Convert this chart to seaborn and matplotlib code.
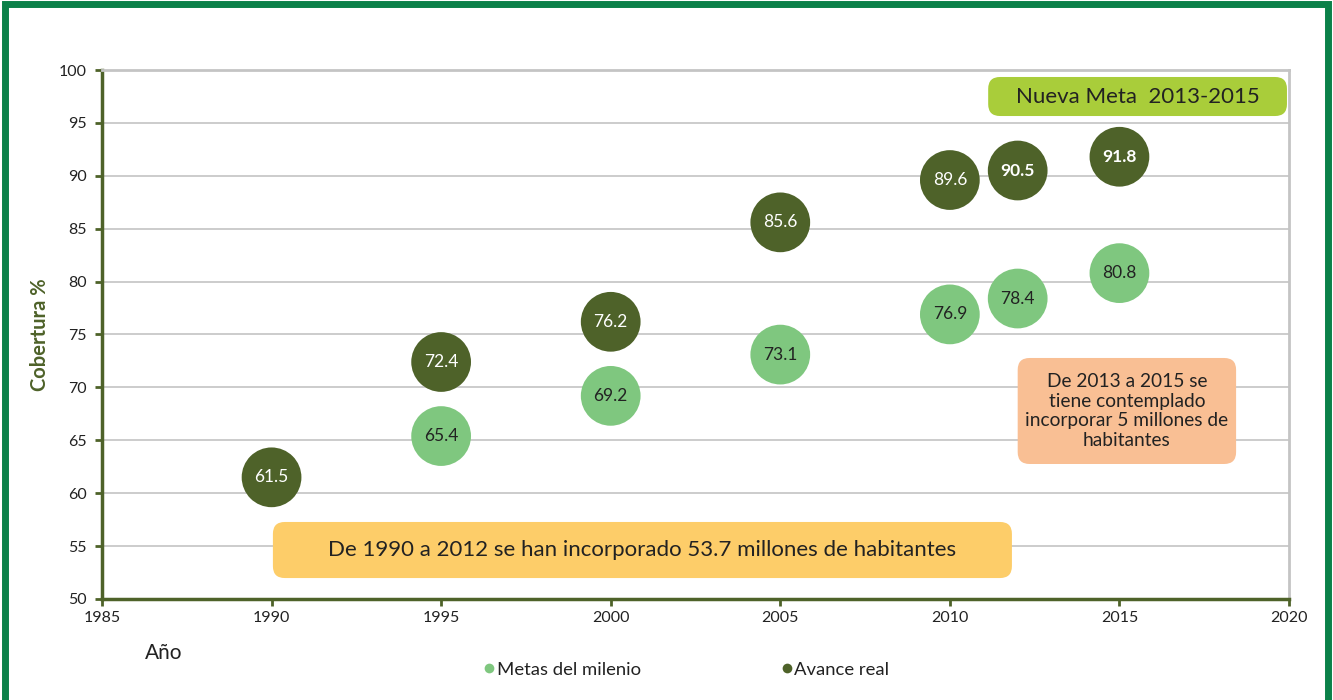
import numpy as np
import pandas as pd
import seaborn as sns
import matplotlib.pyplot as plt
from matplotlib.patches import FancyBboxPatch, Rectangle
from matplotlib.lines import Line2D

# data
years_meta = [1995, 2000, 2005, 2010, 2012, 2015]
vals_meta = [65.4, 69.2, 73.1, 76.9, 78.4, 80.8]
years_real = [1990, 1995, 2000, 2005, 2010, 2012, 2015]
vals_real = [61.5, 72.4, 76.2, 85.6, 89.6, 90.5, 91.8]
series = ["Metas del milenio", "Avance real"]

df = pd.concat([
    pd.DataFrame({"year": years_meta, "value": vals_meta, "serie": series[0]}),
    pd.DataFrame({"year": years_real, "value": vals_real, "serie": series[1]}),
])

DARK = "#4e6229"
LIGHT = "#7fc77f"

sns.set_style("white")
plt.rcParams["font.family"] = ["Lato", "DejaVu Sans"]

fig = plt.figure(figsize=(13.33, 7), dpi=100)
ax = fig.add_axes([0.0765, 0.1443, 0.8905, 0.7557])

sns.scatterplot(data=df, x="year", y="value", hue="serie",
                palette={series[0]: LIGHT, series[1]: DARK},
                s=1850, linewidth=0, legend=False, ax=ax, zorder=3)

for x, y in zip(years_meta, vals_meta):
    ax.text(x, y, f"{y:.1f}", ha="center", va="center", fontsize=12.5,
            color="#222222", zorder=4)
for x, y in zip(years_real, vals_real):
    bold = x in (2012, 2015)
    ax.text(x, y, f"{y:.1f}", ha="center", va="center", fontsize=12.5,
            color="white", fontweight="bold" if bold else "normal", zorder=4)

ax.set_xlim(1985, 2020)
ax.set_ylim(50, 100)
ax.set_xticks(range(1985, 2021, 5))
ax.set_yticks(range(50, 101, 5))
ax.tick_params(axis="both", labelsize=11.5, colors="#222222", length=5,
               width=2)
ax.tick_params(axis="x", color=DARK, pad=4, bottom=True)
ax.tick_params(axis="y", color=DARK, pad=6, direction="out", left=True)
ax.yaxis.grid(True, color="#c8c8c8", linewidth=1.3)
ax.set_axisbelow(True)

for side in ["left", "bottom"]:
    ax.spines[side].set_color(DARK)
    ax.spines[side].set_linewidth(2.5)
for side in ["top", "right"]:
    ax.spines[side].set_color("#c4c4c4")
    ax.spines[side].set_linewidth(2)

ax.set_xlabel("")
ax.set_ylabel("Cobertura %", fontsize=14.5, fontweight="bold", color=DARK,
              labelpad=6)
fig.text(0.109, 0.059, "Año", fontsize=15, color="#222222")

# annotation boxes
def box(x0, y0, x1, y1, color, text, fs, ls=1.2):
    ax.add_patch(FancyBboxPatch((x0, y0), x1 - x0, y1 - y0,
                                boxstyle="round,pad=0,rounding_size=0.35",
                                mutation_aspect=3.2,
                                facecolor=color, edgecolor="none", zorder=2))
    ax.text((x0 + x1) / 2, (y0 + y1) / 2, text, ha="center", va="center",
            fontsize=fs, color="#222222", zorder=3, linespacing=ls)

box(2011.13, 95.65, 2019.94, 99.34, "#a9cd3a", "Nueva Meta  2013-2015", 16)
box(2012.0, 62.76, 2018.44, 72.78, "#f9bf94",
    "De 2013 a 2015 se\ntiene contemplado\nincorporar 5 millones de\nhabitantes", 13.8, 1.17)
box(1990.04, 51.98, 2011.83, 57.28, "#fdcd69",
    "De 1990 a 2012 se han incorporado 53.7 millones de habitantes", 16)

handles = [Line2D([], [], marker="o", linestyle="", markersize=7,
                  markerfacecolor=c, markeredgecolor="none") for c in (LIGHT, DARK)]
fig.legend(handles, series, loc="center", bbox_to_anchor=(0.513, 0.043),
           ncol=2, frameon=False, fontsize=13.3, handletextpad=-0.2,
           handlelength=1.2, columnspacing=7.3, labelcolor="#222222")

# green frame around the figure
fig.patches.append(Rectangle((0.004, -0.05), 0.992, 1.045, transform=fig.transFigure,
                             fill=False, edgecolor="#0b8149", linewidth=5))

fig.savefig("out.png", dpi=100)
